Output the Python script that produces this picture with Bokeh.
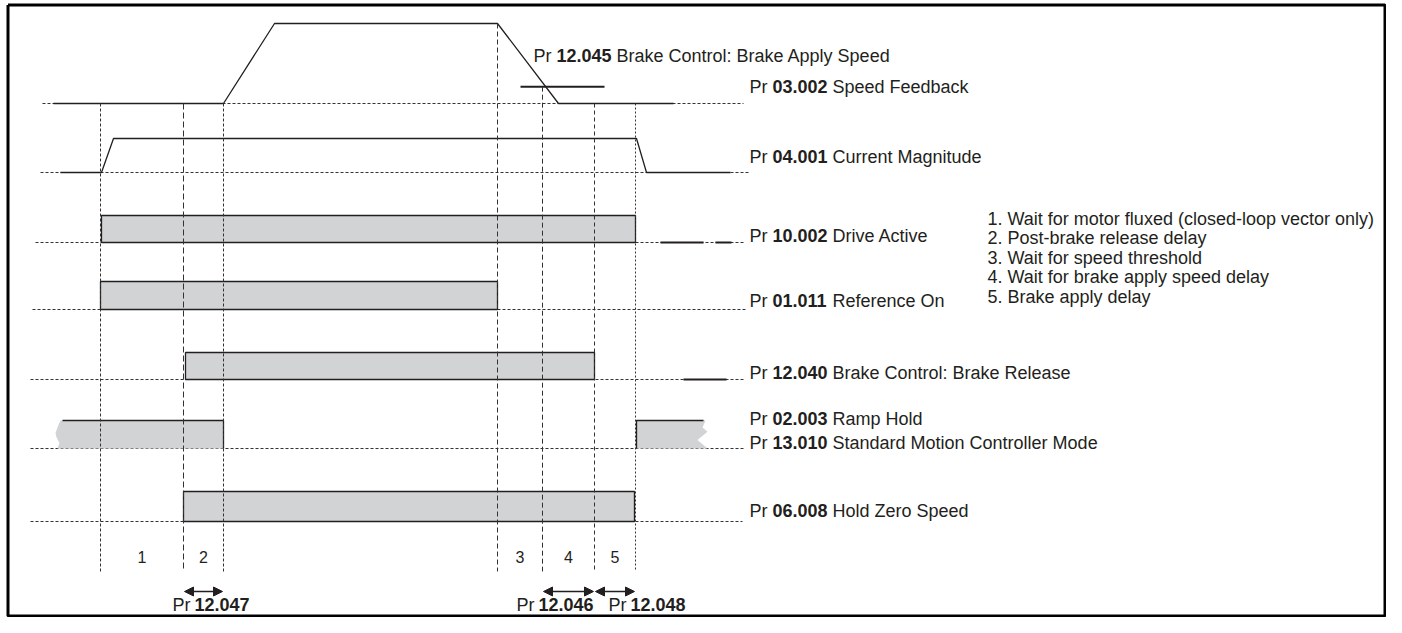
from bokeh.plotting import figure
from bokeh.models import Range1d, Arrow, NormalHead
from bokeh.core.properties import value
from bokeh.embed import file_html
from bokeh.resources import INLINE

# ---------------- data ----------------
event_t = [100, 183, 223, 497, 542, 594, 635]          # event instants (time units)
speed_t = [53, 223, 274, 497, 558, 673]
speed_v = [0, 0, 1, 1, 0, 0]                            # normalised speed feedback
current_t = [60, 101, 113, 636, 646, 730]
current_v = [0, 0, 1, 1, 0, 0]                          # normalised current magnitude
brake_apply_speed = 0.21
brake_apply_t = [520, 604]
drive_active_on, drive_active_off = [101], [635]
reference_on_on, reference_on_off = [100], [497]
brake_release_on, brake_release_off = [185], [594]
ramp_hold_on, ramp_hold_off = [60, 636], [223, 705]
hold_zero_on, hold_zero_off = [183], [634]
phase_labels = ["1", "2", "3", "4", "5"]
phase_bounds = [(0, 1), (1, 2), (3, 4), (4, 5), (5, 6)]
delay_params = ["12.047", "12.046", "12.048"]
delay_bounds = [(1, 2), (4, 5), (5, 6)]
row_params = ["03.002", "04.001", "10.002", "01.011", "12.040", "02.003", "06.008"]
row_names = ["Speed Feedback", "Current Magnitude", "Drive Active", "Reference On",
             "Brake Control: Brake Release", "Ramp Hold", "Hold Zero Speed"]
extra_param, extra_name = "13.010", "Standard Motion Controller Mode"
threshold_param, threshold_name = "12.045", "Brake Control: Brake Apply Speed"
notes = ["1. Wait for motor fluxed (closed-loop vector only)",
         "2. Post-brake  release  delay",
         "3. Wait for speed threshold",
         "4. Wait for brake apply speed delay",
         "5. Brake apply delay"]

# ---------------- layout / style ----------------
row_base = [103, 172, 242, 309, 379, 448, 521]
speed_amp, current_amp = 80, 34
bar_h = {2: 27, 3: 28, 4: 27, 5: 28, 6: 30}
baseline_extent = [(42, 743), (40, 750), (35, 745), (32, 746), (30, 743), (30, 745), (30, 742)]
label_dy = [-17, -16, -7, -9, -7, -30, -11]
label_x = 749
event_dash = ["3 2", "6 3", "3 2", "5 3", "5 3", "4 3", "2 2"]
event_top_level = [0, 0, 0, 1, brake_apply_speed, 0, 0]
event_bottom = 571
FONT = value("Liberation Sans")
INK = "#231f20"
FILL = "#d1d3d4"
FS = "18px"
W, H = 1386, 617

p = figure(width=W, height=H, x_range=Range1d(0, W), y_range=Range1d(H, 0),
           output_backend="svg", toolbar_location=None, min_border=0)
p.axis.visible = False
p.grid.visible = False
p.outline_line_color = None
p.background_fill_color = "white"
p.border_fill_color = "white"

# frame
p.line([7.5, 7.5, W - 1.5, W - 1.5, 7.5], [4.5, H - 1.5, H - 1.5, 4.5, 4.5],
       line_color="black", line_width=3)

# baselines
for (x0, x1), b in zip(baseline_extent, row_base):
    p.line([x0, x1], [b, b], line_color="#333333", line_width=1, line_dash="3 2")

# decorative thick segments on baselines (as in reference)
for (x0, x1) in [(660, 703), (715, 731)]:
    p.line([x0, x1], [row_base[2], row_base[2]], line_color=INK, line_width=2)
p.line([683, 726], [row_base[4], row_base[4]], line_color=INK, line_width=2)

# speed feedback
p.line(speed_t, [row_base[0] - v * speed_amp for v in speed_v], line_color=INK, line_width=1.3)
p.line(brake_apply_t, [row_base[0] - brake_apply_speed * speed_amp] * 2, line_color=INK, line_width=2)
# current magnitude
p.line(current_t, [row_base[1] - v * current_amp for v in current_v], line_color=INK, line_width=1.3)

# logic bars
for r, on, off in [(2, drive_active_on, drive_active_off),
                   (3, reference_on_on, reference_on_off),
                   (4, brake_release_on, brake_release_off),
                   (6, hold_zero_on, hold_zero_off)]:
    p.quad(left=on, right=off, top=[row_base[r] - bar_h[r]] * len(on), bottom=[row_base[r]] * len(on),
           fill_color=FILL, line_color=INK, line_width=1.3)

# ramp hold with torn edges
b5, t5 = row_base[5], row_base[5] - bar_h[5]
h5 = bar_h[5]
left_rag = [(0, 0), (-2, 0.15), (-5, 0.45), (-4, 0.6), (-1, 0.8), (-3, 1.0)]
right_rag = [(0, 0), (-3, 0.25), (2, 0.4), (-8, 0.7), (2, 1.0)]
on, off = ramp_hold_on[0], ramp_hold_off[0]
xs = [off, off] + [on + dx for dx, fy in reversed(left_rag)]
ys = [t5, b5] + [t5 + fy * h5 for dx, fy in reversed(left_rag)]
p.patch(xs, ys, fill_color=FILL, line_alpha=0)
p.line([on + 2, off, off], [t5, t5, b5], line_color=INK, line_width=1.3)
on, off = ramp_hold_on[1], ramp_hold_off[1]
xs = [on, on] + [off + dx for dx, fy in right_rag]
ys = [b5, t5] + [t5 + fy * h5 for dx, fy in right_rag]
p.patch(xs, ys, fill_color=FILL, line_alpha=0)
p.line([on, on, off - 2], [b5, t5, t5], line_color=INK, line_width=1.3)

# event lines
sp_top = [row_base[0] - lv * speed_amp for lv in event_top_level]
for t, top, d in zip(event_t, sp_top, event_dash):
    p.line([t, t], [top, event_bottom], line_color="#333333", line_width=1, line_dash=d)


def pr_label(x, y, num, rest, size=FS, num_off=23, rest_off=83):
    p.text(x=[x], y=[y], text=["Pr"], text_font=FONT, text_font_size=size,
           text_baseline="middle", text_align="left", text_color=INK)
    p.text(x=[x], y=[y], text=[num], x_offset=num_off, text_font=FONT, text_font_size=size,
           text_font_style="bold", text_baseline="middle", text_align="left", text_color=INK)
    if rest:
        p.text(x=[x], y=[y], text=[rest], x_offset=rest_off, text_font=FONT, text_font_size=size,
               text_baseline="middle", text_align="left", text_color=INK)


for b, dy, num, name in zip(row_base, label_dy, row_params, row_names):
    pr_label(label_x, b + dy, num, name)
pr_label(label_x, row_base[5] - 6, extra_param, extra_name)
pr_label(533, 55, threshold_param, threshold_name)

# phase numbers
p.text(x=[(event_t[a] + event_t[b]) / 2 for a, b in phase_bounds], y=[556] * len(phase_labels),
       text=phase_labels, text_font=FONT, text_font_size="16px", text_align="center",
       text_baseline="middle", text_color=INK)

# delay arrows
label_starts = [172, 516, 608]
for (a, b), num, lx in zip(delay_bounds, delay_params, label_starts):
    p.add_layout(Arrow(x_start=event_t[a] + 1, y_start=591, x_end=event_t[b] - 1, y_end=591,
                       line_color=INK, line_width=1.5,
                       start=NormalHead(size=9, fill_color=INK, line_color=INK),
                       end=NormalHead(size=9, fill_color=INK, line_color=INK)))
    pr_label(lx, 604, num, None, num_off=22)

# notes
p.text(x=[987] * len(notes), y=[218 + 19.6 * i for i in range(len(notes))], text=notes,
       text_font=FONT, text_font_size=FS, text_baseline="middle", text_align="left", text_color=INK)

open("out.html", "w").write(file_html(p, INLINE))
